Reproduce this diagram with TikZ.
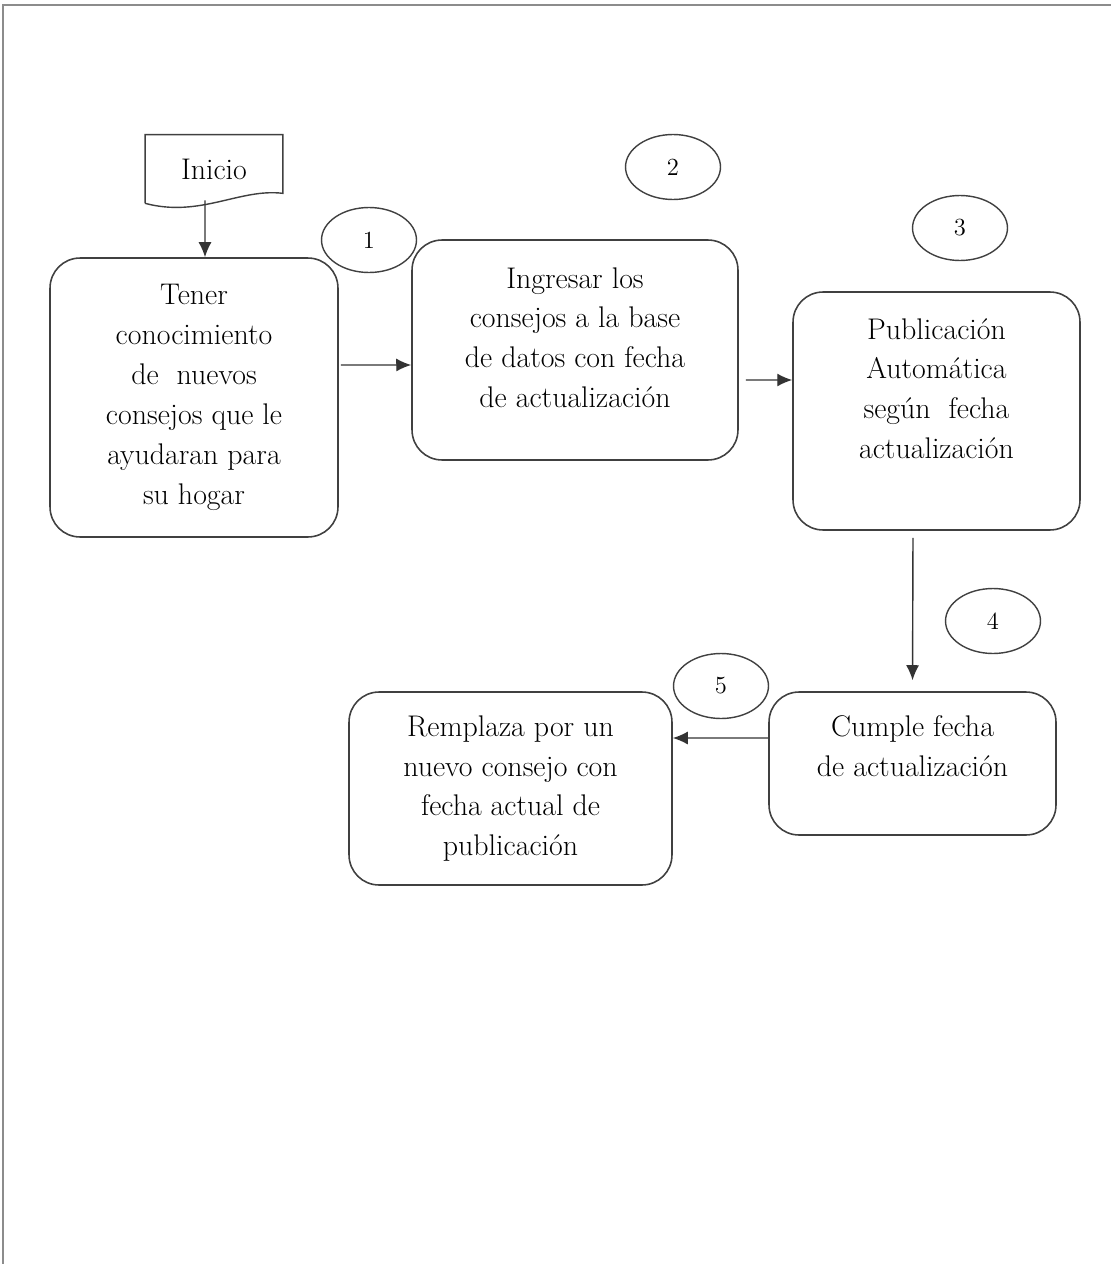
\documentclass[tikz,border=0pt]{standalone}
\usepackage{xcolor}
\usepackage{tikz}
\usetikzlibrary{shapes,arrows,positioning,calc,arrows.meta}

\begin{document}
\begin{tikzpicture}[x=0.02cm, y=-0.02cm,
        paso/.style={draw=black!75, line width=0.9pt, rounded corners=0.6cm, align=center,
            inner sep=0pt, text=black, font=\fontsize{17}{22.7}\selectfont},
        num/.style={draw=black!75, line width=0.8pt, ellipse, inner sep=0pt,
            minimum width=1.9cm, minimum height=1.3cm, text=black, font=\fontsize{14}{16}\selectfont},
        flecha/.style={draw=black!80, line width=0.8pt, -{Latex[length=0.3cm, width=0.26cm]}}]
        \useasboundingbox (0,0) rectangle (1111,1264);
        % Marco
        \draw[black!45, line width=0.7pt] (3,1264) -- (3,5) -- (1111,5);

        % Inicio
        \node[inner sep=0pt, minimum width=2.74cm, minimum height=1.36cm, text=black,
            font=\fontsize{17}{20}\selectfont] (inicio) at (214,169) {Inicio};
        \draw[black!75, line width=0.8pt] (inicio.south west) -- (inicio.north west) -- (inicio.north east)
            -- ([yshift=0.2cm]inicio.south east) .. controls (240,188) and (200,218) .. (inicio.south west);

        % Pasos
        \node[paso, minimum width=5.76cm, minimum height=5.58cm] (tener) at (194,397.5)
            {Tener\\conocimiento\\de\ \ nuevos\\consejos que le\\ayudaran para\\su hogar};
        \node[paso, minimum width=6.52cm, minimum height=4.4cm, text depth=0.5cm] (ingresar) at (575,350)
            {Ingresar los\\consejos a la base\\de datos con fecha\\de actualización};
        \node[paso, minimum width=5.74cm, minimum height=4.76cm, text depth=0.9cm] (publicacion) at (936.5,411)
            {Publicación\\Automática\\según\ \ fecha\\actualización};
        \node[paso, minimum width=5.74cm, minimum height=2.86cm, text depth=0.7cm] (cumple) at (912.5,763.5)
            {Cumple fecha\\de actualización};
        \node[paso, minimum width=6.46cm, minimum height=3.86cm] (remplaza) at (510.5,788.5)
            {Remplaza por un\\nuevo consejo con\\fecha actual de\\publicación};

        % Numeros
        \node[num] (n1) at (369,240) {1};
        \node[num] (n2) at (673,167) {2};
        \node[num] (n3) at (960,228) {3};
        \node[num] (n4) at (993,621) {4};
        \node[num] (n5) at (721,686) {5};

        % Flechas
        \draw[flecha] ([xshift=-0.18cm, yshift=0.06cm]inicio.south) -- ([xshift=0.22cm]tener.north);
        \draw[flecha] ([xshift=0.04cm, yshift=0.65cm]tener.east) -- ([yshift=-0.3cm]ingresar.west);
        \draw[flecha, shorten <=0.14cm] ([yshift=-0.6cm]ingresar.east) -- ([yshift=0.62cm]publicacion.west);
        \draw[flecha, shorten <=0.14cm, shorten >=0.22cm] ([xshift=-0.47cm]publicacion.south) -- (cumple.north);
        \draw[flecha] ([yshift=0.51cm]cumple.west) -- ([yshift=1.01cm]remplaza.east);
    \end{tikzpicture}
\end{document}
